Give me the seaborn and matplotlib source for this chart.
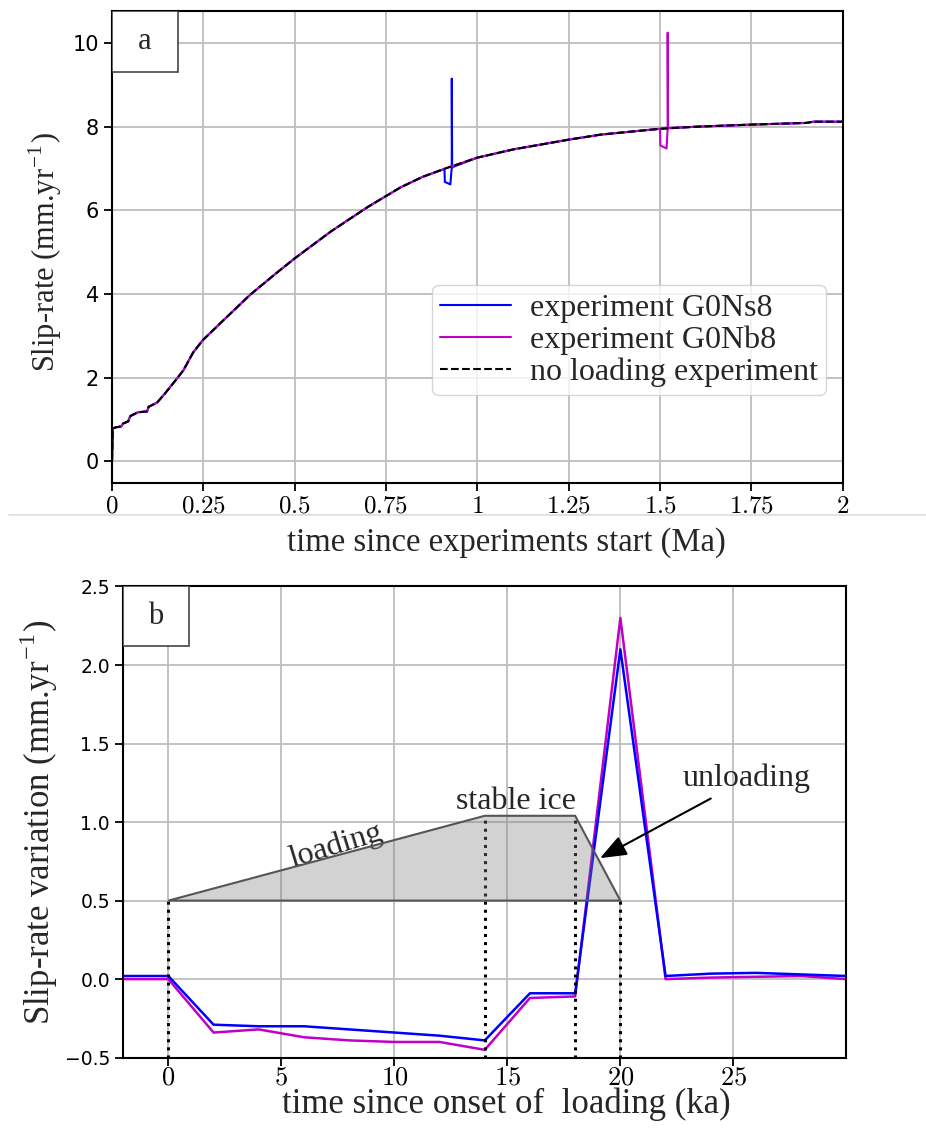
import numpy as np
import pandas as pd
import seaborn as sns
import matplotlib
matplotlib.use("Agg")
import matplotlib.pyplot as plt
from matplotlib.patches import Rectangle, Polygon
from matplotlib.lines import Line2D

# ---------------- data: panel a ----------------
base_t = [0.0, 0.002, 0.01, 0.025, 0.03, 0.044, 0.05, 0.071, 0.096, 0.10, 0.123,
          0.145, 0.178, 0.195, 0.222, 0.249, 0.30, 0.378, 0.45, 0.50, 0.60, 0.70,
          0.79, 0.85, 0.912, 1.0, 1.1, 1.25, 1.337, 1.5, 1.6, 1.75, 1.9, 1.92, 2.0]
base_v = [0.0, 0.78, 0.81, 0.83, 0.90, 0.95, 1.08, 1.17, 1.19, 1.30, 1.40,
          1.62, 1.98, 2.17, 2.60, 2.90, 3.33, 3.98, 4.50, 4.85, 5.50, 6.08,
          6.55, 6.80, 7.00, 7.26, 7.46, 7.69, 7.81, 7.95, 8.00, 8.05, 8.09, 8.12, 8.12]
s8_spike_t = [0.910, 0.911, 0.926, 0.930, 0.930, 0.931]
s8_spike_v = [6.99, 6.68, 6.62, 7.03, 9.15, 7.03]
b8_spike_t = [1.500, 1.501, 1.518, 1.521, 1.521, 1.522]
b8_spike_v = [7.95, 7.55, 7.48, 7.97, 10.25, 7.97]

xa_ticks = [0, 0.25, 0.5, 0.75, 1, 1.25, 1.5, 1.75, 2]
xa_labels = ["0", "0.25", "0.5", "0.75", "1", "1.25", "1.5", "1.75", "2"]
ya_ticks = [0, 2, 4, 6, 8, 10]

# ---------------- data: panel b ----------------
tb = [-2, 0, 2, 4, 6, 8, 10, 12, 14, 16, 18, 20, 22, 24, 26, 28, 30]
vb_s8 = [0.02, 0.02, -0.29, -0.30, -0.30, -0.32, -0.34, -0.36, -0.39, -0.09, -0.09,
         2.10, 0.02, 0.035, 0.04, 0.03, 0.02]
vb_b8 = [0.00, 0.00, -0.34, -0.32, -0.37, -0.39, -0.40, -0.40, -0.45, -0.12, -0.11,
         2.30, 0.00, 0.01, 0.015, 0.02, 0.00]
ice_x = [0, 14, 18, 20]
ice_y = [0.5, 1.04, 1.04, 0.5]
xb_ticks = [0, 5, 10, 15, 20, 25]
xb_labels = ["0", "5", "10", "15", "20", "25"]
yb_ticks = [-0.5, 0.0, 0.5, 1.0, 1.5, 2.0, 2.5]

# build series with spikes
def with_spike(t, v, st, sv):
    lo, hi = st[0], st[-1]
    pre = [(a, b) for a, b in zip(t, v) if a < lo]
    post = [(a, b) for a, b in zip(t, v) if a > hi]
    pts = pre + list(zip(st, sv)) + post
    return pd.DataFrame(pts, columns=["t", "v"])

df_s8 = with_spike(base_t, base_v, s8_spike_t, s8_spike_v)
df_b8 = with_spike(base_t, base_v, b8_spike_t, b8_spike_v)
df_base = pd.DataFrame({"t": base_t, "v": base_v})
df_b = pd.DataFrame({"t": tb, "s8": vb_s8, "b8": vb_b8})

sns.set_theme(style="ticks")
plt.rcParams["font.family"] = ["Liberation Serif", "DejaVu Serif"]
plt.rcParams["mathtext.fontset"] = "cm"
plt.rcParams["axes.edgecolor"] = "black"
plt.rcParams["axes.linewidth"] = 1.5
plt.rcParams["xtick.color"] = "black"
plt.rcParams["ytick.color"] = "black"
plt.rcParams["xtick.major.size"] = 6
plt.rcParams["ytick.major.size"] = 6
plt.rcParams["xtick.major.width"] = 1.3
plt.rcParams["ytick.major.width"] = 1.3

BLUE = "#0000ff"
MAG = "#c000c8"
GRID = "#bdbdbd"

fig = plt.figure(figsize=(9.26, 11.3), dpi=100)
ax1 = fig.add_axes([0.121, 0.573, 0.789, 0.417])
ax2 = fig.add_axes([0.133, 0.064, 0.781, 0.417])

# separator line
fig.add_artist(Line2D([0.01, 1.0], [1 - 515 / 1130, 1 - 515 / 1130],
                      transform=fig.transFigure, color="#dddddd", lw=1.2))

# ---------------- panel a ----------------
sns.lineplot(data=df_s8, x="t", y="v", ax=ax1, color=BLUE, lw=1.5,
             estimator=None, sort=False, label="experiment G0Ns8")
sns.lineplot(data=df_b8, x="t", y="v", ax=ax1, color=MAG, lw=1.5,
             estimator=None, sort=False, label="experiment G0Nb8")
sns.lineplot(data=df_base, x="t", y="v", ax=ax1, color="black", lw=1.5,
             linestyle="--", estimator=None, sort=False, label="no loading experiment")
ax1.set_xlim(0, 2)
ax1.set_ylim(-0.51, 10.76)
ax1.set_xticks(xa_ticks)
ax1.set_xticklabels(["$" + s + "$" for s in xa_labels], fontsize=18)
ax1.set_yticks(ya_ticks)
ax1.set_yticklabels([str(v) for v in ya_ticks], fontsize=15, fontfamily="DejaVu Sans")
ax1.grid(True, color=GRID, lw=1.3)
ax1.set_axisbelow(True)
ax1.set_xlabel("time since experiments start (Ma)", fontsize=23.5)
ax1.set_ylabel("Slip-rate (mm.yr$^{\\mathregular{-1}}$)", fontsize=22)
ax1.xaxis.set_label_coords(0.54, -0.095)
ax1.yaxis.set_label_coords(-0.066, 0.49)
leg = ax1.legend(loc="lower right", bbox_to_anchor=(0.977, 0.186), borderaxespad=0,
                 fontsize=23, labelspacing=0.08, handlelength=2.2, handletextpad=0.6,
                 borderpad=0.25, edgecolor="#cccccc")
ax1.add_patch(Rectangle((0, 1 - 61 / 472), 66 / 731, 61 / 472, transform=ax1.transAxes,
                        fc="white", ec="#444444", lw=1.2, zorder=6))
ax1.text(33 / 731, 1 - 30 / 472, "a", transform=ax1.transAxes, ha="center", va="center",
         fontsize=22, zorder=7)

# ---------------- panel b ----------------
sns.lineplot(data=df_b, x="t", y="s8", ax=ax2, color=BLUE, lw=1.8,
             estimator=None, sort=False, zorder=3)
sns.lineplot(data=df_b, x="t", y="b8", ax=ax2, color=MAG, lw=1.8,
             estimator=None, sort=False, zorder=2)
for xv, yv in zip(ice_x, ice_y):
    ax2.plot([xv, xv], [-0.5, yv], color="black", ls=":", lw=2.2, zorder=4)
poly = Polygon(list(zip(ice_x, ice_y)), closed=True, fc="gray", alpha=0.35,
               ec="none", zorder=5)
ax2.add_patch(poly)
ax2.add_patch(Polygon(list(zip(ice_x, ice_y)), closed=True, fill=False,
                      ec="#555555", lw=1.5, zorder=6))
ax2.set_xlim(-2, 30)
ax2.set_ylim(-0.5, 2.5)
ax2.set_xticks(xb_ticks)
ax2.set_xticklabels(["$" + s + "$" for s in xb_labels], fontsize=19)
ax2.tick_params(axis="x", pad=1)
ax2.set_yticks(yb_ticks)
ax2.set_yticklabels(["\u2212%.1f" % abs(v) if v < 0 else "%.1f" % v for v in yb_ticks],
                    fontsize=13.5, fontfamily="DejaVu Sans")
ax2.grid(True, color=GRID, lw=1.3)
ax2.set_axisbelow(True)
ax2.set_xlabel("time since onset of  loading (ka)", fontsize=25)
ax2.set_ylabel("Slip-rate variation (mm.yr$^{\\mathregular{-1}}$)", fontsize=25)
ax2.xaxis.set_label_coords(0.53, -0.064)
ax2.yaxis.set_label_coords(-0.088, 0.5)
ax2.text(7.4, 0.85, "loading", rotation=17, ha="center", va="center", fontsize=23)
ax2.text(15.4, 1.13, "stable ice", ha="center", va="center", fontsize=23)
ax2.text(25.6, 1.28, "unloading", ha="center", va="center", fontsize=23)
ax2.annotate("", xy=(19.1, 0.77), xytext=(24.0, 1.15),
             arrowprops=dict(arrowstyle="-|>,head_length=0.9,head_width=0.35",
                             mutation_scale=18, color="black", lw=1.5,
                             shrinkA=0, shrinkB=0), zorder=8)
ax2.add_patch(Rectangle((0, 1 - 60 / 472), 66 / 723, 60 / 472, transform=ax2.transAxes,
                        fc="white", ec="#444444", lw=1.2, zorder=9))
ax2.text(33 / 723, 1 - 30 / 472, "b", transform=ax2.transAxes, ha="center", va="center",
         fontsize=22, zorder=10)

fig.savefig("out.png", dpi=100)
